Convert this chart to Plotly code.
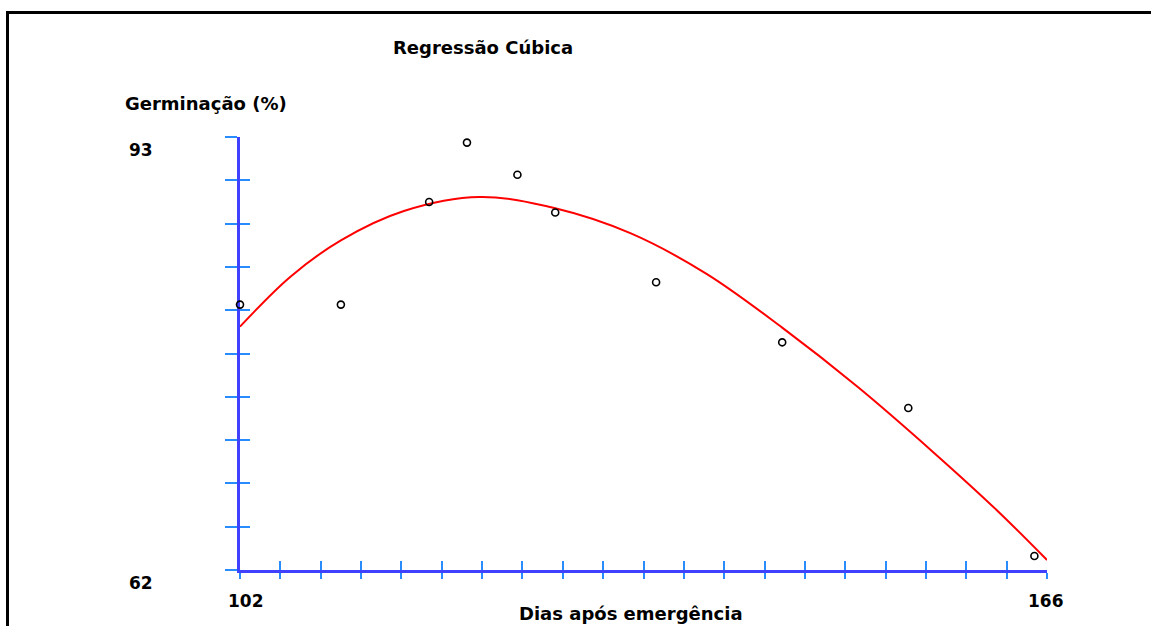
import plotly.graph_objects as go

# Observed germination by days after emergence
dias = [102, 110, 117, 120, 124, 127, 135, 145, 155, 165]
germinacao = [81.0, 81.0, 88.35, 92.6, 90.3, 87.6, 82.6, 78.3, 73.6, 63.0]

# Fitted cubic regression curve (sampled along the x range)
curva_x = [102, 106, 110, 115, 121, 127, 133, 139, 145, 151, 157, 162, 166]
curva_y = [79.42, 83.0, 85.6, 87.7, 88.7, 87.9, 86.1, 83.2, 79.35, 75.1, 70.42, 66.3, 62.72]

# Axis extents and tick grid
x_min, x_max = 102, 166
y_min, y_max = 62, 93
x_ticks = [round(x_min + 3.2 * i, 2) for i in range(21)]
y_ticks = [round(y_min + 3.1 * i, 2) for i in range(11)]

W, H = 1151, 626
FONT = "DejaVu Sans"
AXIS_BLUE = "rgb(64,64,255)"
TICK_BLUE = "rgb(40,140,255)"

fig = go.Figure()

fig.add_trace(go.Scatter(
    x=curva_x, y=curva_y, mode="lines",
    line=dict(color="red", width=2, shape="spline", smoothing=1.0),
    cliponaxis=False, showlegend=False, hoverinfo="skip"))

fig.add_trace(go.Scatter(
    x=dias, y=germinacao, mode="markers",
    marker=dict(symbol="circle-open", size=7, color="black", line=dict(width=1.6, color="black")),
    cliponaxis=False, showlegend=False))

x_dom = [240 / W, 1047 / W]
y_dom = [1 - 570 / H, 1 - 137 / H]

common_x = dict(range=[x_min, x_max], domain=x_dom, tickmode="array", tickvals=x_ticks,
                showticklabels=False, showgrid=False, zeroline=False,
                tickcolor=TICK_BLUE, tickwidth=2, fixedrange=True)
common_y = dict(range=[y_min, y_max], domain=y_dom, tickmode="array", tickvals=y_ticks,
                showticklabels=False, showgrid=False, zeroline=False,
                tickcolor=TICK_BLUE, tickwidth=2, fixedrange=True)

fig.update_layout(
    width=W, height=H,
    margin=dict(l=0, r=0, t=0, b=0),
    paper_bgcolor="white", plot_bgcolor="white",
    xaxis=dict(**common_x, anchor="y", showline=True, linecolor=AXIS_BLUE, linewidth=2.5,
               ticks="outside", ticklen=6, layer="below traces"),
    xaxis2=dict(**common_x, anchor="y", overlaying="x", side="bottom", showline=False,
                ticks="inside", ticklen=9, layer="below traces"),
    yaxis=dict(**common_y, anchor="x", showline=True, linecolor=AXIS_BLUE, linewidth=2.5,
               ticks="outside", ticklen=12, layer="below traces"),
    yaxis2=dict(**common_y, anchor="x", overlaying="y", side="left", showline=False,
                ticks="inside", ticklen=10, layer="below traces"),
)

# Invisible trace so the overlay axes (inner tick marks) are rendered
fig.add_trace(go.Scatter(x=[x_min], y=[y_min], xaxis="x2", yaxis="y2", mode="markers",
                         marker=dict(opacity=0), showlegend=False, hoverinfo="skip"))

bold = dict(family=FONT, size=18, color="black")
bold_tick = dict(family=FONT, size=17, color="black")

annotations = [
    dict(text="<b>Regressão Cúbica</b>", x=483 / W, y=1 - 47 / H, xref="paper", yref="paper",
         showarrow=False, font=bold, xanchor="center", yanchor="middle"),
    dict(text="<b>Germinação (%)</b>", x=206 / W, y=1 - 104 / H, xref="paper", yref="paper",
         showarrow=False, font=bold, xanchor="center", yanchor="middle"),
    dict(text="<b>Dias após emergência</b>", x=631 / W, y=1 - 613 / H, xref="paper", yref="paper",
         showarrow=False, font=bold, xanchor="center", yanchor="middle"),
    dict(text=f"<b>{y_max}</b>", x=141 / W, y=y_max, xref="paper", yref="y", yshift=-13,
         showarrow=False, font=bold_tick, xanchor="center", yanchor="middle"),
    dict(text=f"<b>{y_min}</b>", x=141 / W, y=y_min, xref="paper", yref="y", yshift=-13,
         showarrow=False, font=bold_tick, xanchor="center", yanchor="middle"),
    dict(text=f"<b>{x_min}</b>", x=x_min, y=1 - 601 / H, xref="x", yref="paper", xshift=6,
         showarrow=False, font=bold_tick, xanchor="center", yanchor="middle"),
    dict(text=f"<b>{x_max}</b>", x=x_max, y=1 - 601 / H, xref="x", yref="paper", xshift=-1,
         showarrow=False, font=bold_tick, xanchor="center", yanchor="middle"),
]
fig.update_layout(annotations=annotations)

# Frame edges around the chart (left and top)
frame = dict(color="black", width=3)
fig.add_shape(type="line", xref="paper", yref="paper",
              x0=7.5 / W, x1=7.5 / W, y0=0, y1=1 - 12.5 / H, line=frame, layer="below")
fig.add_shape(type="line", xref="paper", yref="paper",
              x0=6 / W, x1=1, y0=1 - 12.5 / H, y1=1 - 12.5 / H, line=frame, layer="below")

fig.write_html("out.html")
